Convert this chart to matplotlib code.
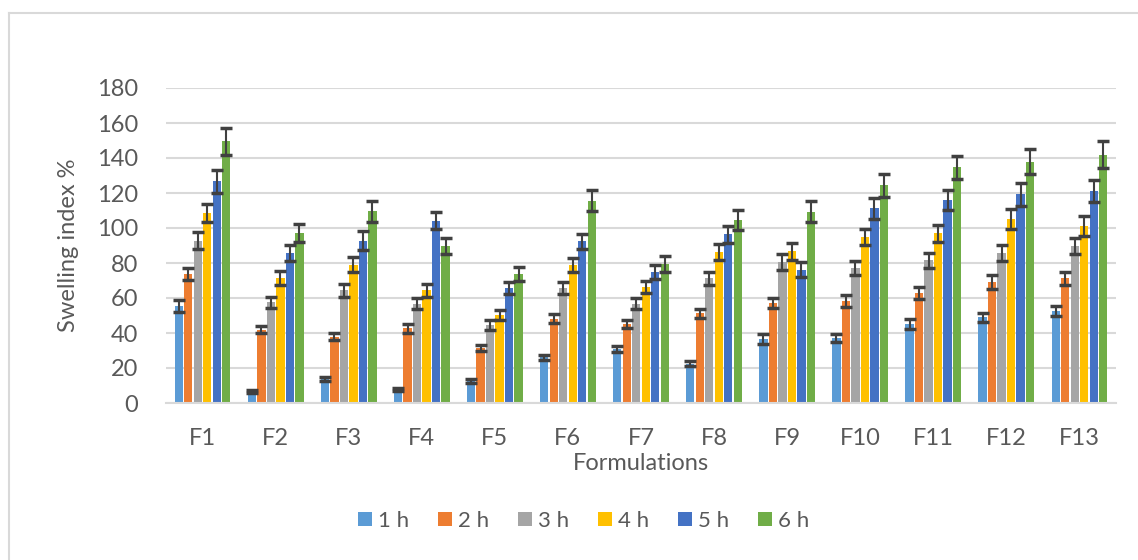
import numpy as np
import matplotlib
matplotlib.use("Agg")
import matplotlib.pyplot as plt
from matplotlib.lines import Line2D

plt.rcParams['font.family'] = ['Lato', 'DejaVu Sans']

# ===== data =====
formulations = ['F1', 'F2', 'F3', 'F4', 'F5', 'F6', 'F7', 'F8', 'F9', 'F10', 'F11', 'F12', 'F13']
hours = ['1 h', '2 h', '3 h', '4 h', '5 h', '6 h']

h1 = [55.2, 6.7, 13.7, 7.6, 12.6, 26.1, 30.7, 22.5, 36.6, 37.0, 45.1, 49.0, 52.6]
h2 = [73.9, 41.9, 37.9, 42.7, 31.2, 48.2, 45.3, 51.2, 57.0, 58.3, 62.9, 69.1, 71.2]
h3 = [92.8, 57.5, 64.4, 56.8, 44.6, 65.7, 56.8, 71.2, 80.4, 77.0, 81.5, 85.7, 89.7]
h4 = [108.6, 71.4, 79.0, 64.4, 50.3, 78.9, 66.3, 86.5, 86.7, 94.9, 97.0, 105.3, 101.1]
h5 = [126.7, 85.5, 92.8, 104.2, 65.7, 92.4, 74.9, 96.4, 76.2, 111.2, 115.8, 119.2, 121.1]
h6 = [149.5, 97.0, 109.5, 89.7, 73.9, 115.6, 79.2, 104.6, 109.3, 124.4, 134.7, 137.9, 141.9]

e1 = [3.4, 1.0, 1.0, 1.0, 1.1, 1.6, 1.7, 1.4, 2.6, 2.2, 2.9, 2.6, 2.7]
e2 = [3.5, 2.0, 2.0, 2.6, 1.7, 2.4, 2.4, 2.6, 2.8, 3.4, 3.3, 3.8, 3.6]
e3 = [5.0, 3.3, 3.8, 3.3, 2.7, 3.2, 3.1, 3.6, 4.5, 4.1, 4.3, 4.4, 4.6]
e4 = [5.4, 3.8, 4.3, 3.8, 3.0, 4.1, 3.7, 4.5, 4.8, 4.7, 5.0, 5.8, 5.5]
e5 = [6.5, 4.6, 5.4, 5.0, 3.4, 4.4, 3.8, 5.0, 4.2, 6.0, 5.7, 6.5, 6.5]
e6 = [7.8, 5.2, 6.2, 4.6, 3.9, 6.0, 4.6, 5.5, 6.0, 6.7, 6.7, 7.3, 7.6]

values = [h1, h2, h3, h4, h5, h6]
errors = [e1, e2, e3, e4, e5, e6]
colors = ['#5B9BD5', '#ED7D31', '#A5A5A5', '#FFC000', '#4472C4', '#70AD47']
text_color = '#595959'

# ===== figure =====
fig = plt.figure(figsize=(11.38, 5.6), dpi=100)
ax = fig.add_axes([166 / 1138, 1 - 403 / 560, 950 / 1138, 315 / 560])

# chart border (left / top only visible)
fig.add_artist(Line2D([9 / 1138, 9 / 1138], [0, 1 - 13 / 560], transform=fig.transFigure,
                      color='#D9D9D9', lw=1.5))
fig.add_artist(Line2D([9 / 1138, 1], [1 - 13 / 560, 1 - 13 / 560], transform=fig.transFigure,
                      color='#D9D9D9', lw=1.5))

x = np.arange(len(formulations))
slot = 0.13
width = 0.114
handles = []
for i, (vals, errs) in enumerate(zip(values, errors)):
    pos = x + (i - 2.5) * slot
    b = ax.bar(pos, vals, width, color=colors[i], label=hours[i], zorder=2)
    ax.errorbar(pos, vals, yerr=errs, fmt='none', ecolor='#404040',
                elinewidth=1.5, capsize=4.3, capthick=2.5, zorder=3)
    handles.append(b)

ax.set_xlim(-0.5, len(formulations) - 0.5)
ax.set_ylim(0, 180)
ax.set_yticks(np.arange(0, 181, 20))
ax.set_xticks(x)
ax.set_xticklabels(formulations)
ax.grid(axis='y', color='#D9D9D9', lw=1.5, zorder=0)
ax.set_axisbelow(True)
for s in ['top', 'right', 'left']:
    ax.spines[s].set_visible(False)
ax.spines['bottom'].set_color('#D9D9D9')
ax.spines['bottom'].set_linewidth(1.5)
ax.tick_params(axis='both', length=0, labelsize=17, colors=text_color)
ax.tick_params(axis='x', pad=18)
ax.tick_params(axis='y', pad=20)

ax.set_xlabel('Formulations', fontsize=17, color=text_color, labelpad=3)
ax.set_ylabel('Swelling index %', fontsize=17, color=text_color, labelpad=13)

fig.legend(handles=handles, labels=hours, loc='center', bbox_to_anchor=(584 / 1138, 1 - 521 / 560),
           ncol=6, frameon=False, fontsize=16, labelcolor=text_color,
           handlelength=0.6, handleheight=0.6, handletextpad=0.3, columnspacing=1.3)

plt.savefig('out.png', dpi=100)
